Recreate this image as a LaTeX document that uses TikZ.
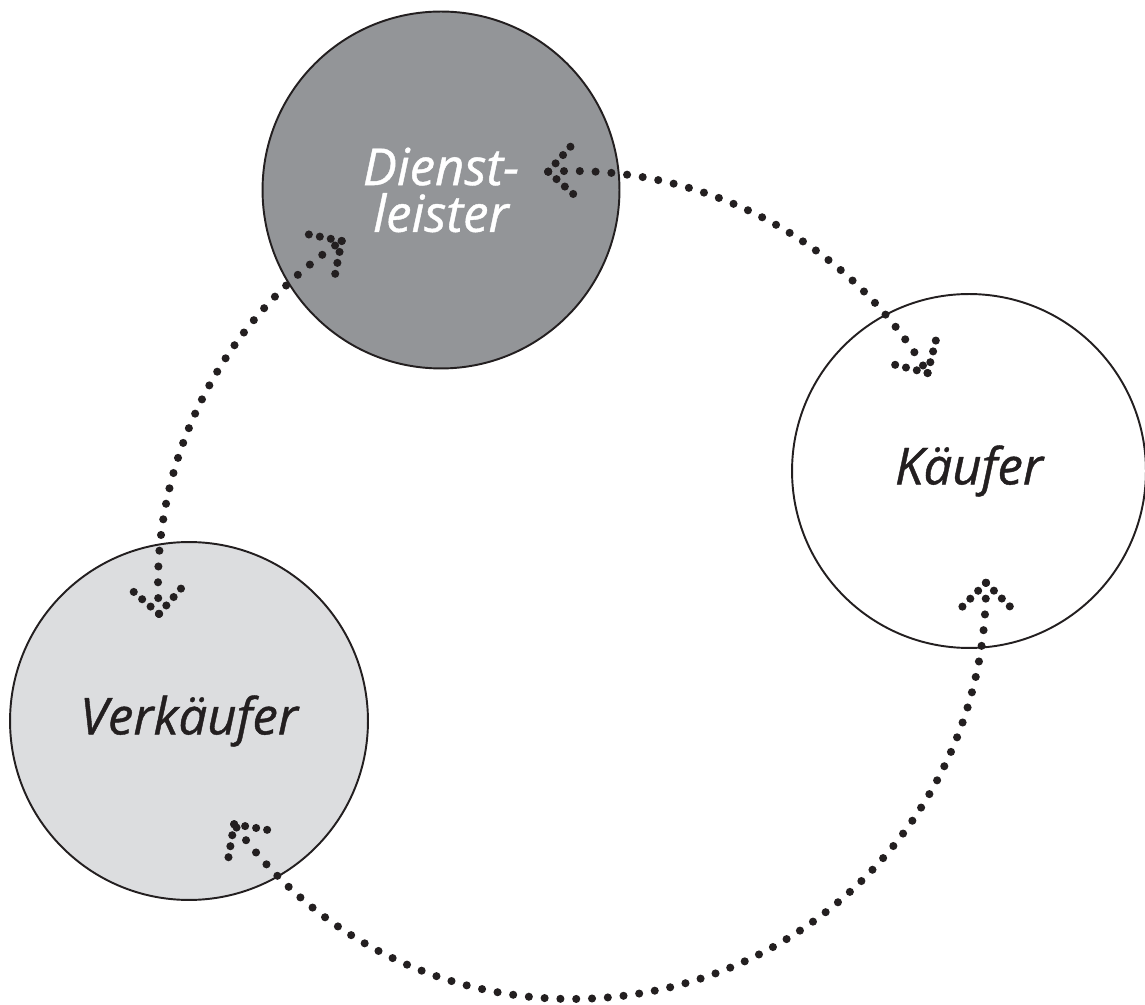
\documentclass[tikz,border=0pt]{standalone}
\usepackage{fontspec}
\setmainfont{Open Sans}[ItalicFeatures={FakeBold=0.8}]
\usepackage{tikz}
\usetikzlibrary{calc}

\definecolor{dunkelgrau}{HTML}{939598}
\definecolor{hellgrau}{HTML}{DCDDDF}
\definecolor{schwarz}{HTML}{231F20}

\tikzset{
  kreis/.style={circle, draw=schwarz, line width=1.1pt, inner sep=0pt, align=center,
    font=\fontsize{29}{26.6}\selectfont\itshape},
  punkte/.style={schwarz, line width=4.6pt, line cap=round, dash pattern=on 0pt off 9pt},
  spitze/.style={schwarz, line width=4.6pt, line cap=round, dash pattern=on 0pt off 6.35pt},
}

% Pfeilspitze aus Punkten: Spitze, Laufrichtung
\newcommand{\punktspitze}[2]{%
  \draw[spitze] (#1) -- ++(#2+135:34);
  \draw[spitze] (#1) -- ++(#2-135:34);
}

\begin{document}
\begin{tikzpicture}[x=0.02cm, y=0.02cm]

\useasboundingbox (0,0) rectangle (1145,1004);

% Kreise
\node[kreis, fill=dunkelgrau, text=white, minimum size=7.14cm] (dienst) at (441,814) {Dienst-\\leister};
\node[kreis, fill=white, text=schwarz, minimum size=7.08cm] (kaeufer) at (969,533) {K\"aufer};
\node[kreis, fill=hellgrau, text=schwarz, minimum size=7.16cm] (verkaeufer) at (189,283) {Verk\"aufer};

% Mittelpunkt der Punktlinien
\coordinate (mitte) at (572,419);

\coordinate (dk) at ($(mitte)+(93.3:414)$);   % bei Dienstleister
\coordinate (kd) at ($(mitte)+(30.8:414)$);   % bei Kaeufer
\coordinate (kv) at ($(mitte)+(0.3:414)$);    % bei Kaeufer unten
\coordinate (vk) at ($(mitte)+(215.3:414)$);  % bei Verkaeufer unten
\coordinate (vd) at ($(mitte)+(184:414)$);    % bei Verkaeufer oben
\coordinate (dv) at ($(mitte)+(123.8:414)$);  % bei Dienstleister links

\draw[punkte] (dk) arc[start angle=93.3, end angle=30.8, radius=414];
\draw[punkte] (kv) arc[start angle=0.3, end angle=-144.7, radius=414];
\draw[punkte] (vd) arc[start angle=184, end angle=123.8, radius=414];

\punktspitze{dk}{183.3}
\punktspitze{kd}{-59.2}
\punktspitze{kv}{90.3}
\punktspitze{vk}{125.3}
\punktspitze{vd}{274}
\punktspitze{dv}{33.8}

\end{tikzpicture}
\end{document}
